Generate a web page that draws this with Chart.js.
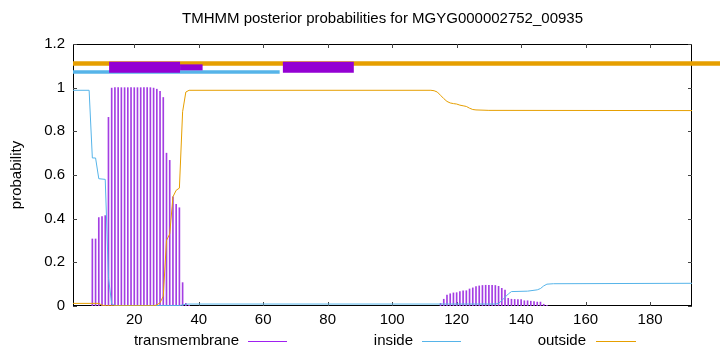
<!DOCTYPE html>
<html>
<head>
<meta charset="utf-8">
<script src="https://cdn.jsdelivr.net/npm/chart.js@4.4.0/dist/chart.umd.min.js"></script>
<style>
  html, body { margin: 0; padding: 0; background: #fff; }
  canvas { display: block; }
</style>
</head>
<body>
<canvas id="tmhmmChart" width="720" height="352"></canvas>
<script>
// posterior probabilities (residue -> probability)
const insideRes  = [1, 6, 7, 8, 9, 11, 12, 13, 14, 34, 35, 36, 37, 132, 133, 134, 135, 136, 137, 142, 145, 146, 147, 148, 150, 193];
const insideProb = [0.988, 0.988, 0.678, 0.678, 0.583, 0.58, 0.13, 0.01, 0.002, 0.002, 0.005, 0.008, 0.009, 0.009, 0.012, 0.025, 0.04, 0.055, 0.066, 0.068, 0.074, 0.08, 0.092, 0.1, 0.102, 0.104];

const outsideRes  = [1, 9, 10, 11, 26, 27, 28, 29, 30, 31, 32, 33, 34, 35, 36, 37, 112, 113, 114, 115, 116, 117, 118, 119, 120, 121, 122, 123, 124, 125, 126, 130, 193];
const outsideProb = [0.012, 0.012, 0.004, 0.001, 0.001, 0.005, 0.015, 0.045, 0.30, 0.33, 0.50, 0.53, 0.54, 0.89, 0.98, 0.988, 0.988, 0.986, 0.98, 0.965, 0.95, 0.937, 0.93, 0.927, 0.925, 0.92, 0.917, 0.914, 0.906, 0.9, 0.898, 0.896, 0.895];

const tmRes  = [7, 8, 9, 10, 11, 12, 13, 14, 15, 16, 17, 18, 19, 20, 21, 22, 23, 24, 25, 26, 27, 28, 29, 30, 31, 32, 33, 34, 35, 36, 37,
                115, 116, 117, 118, 119, 120, 121, 122, 123, 124, 125, 126, 127, 128, 129, 130, 131, 132, 133, 134, 135, 136, 137, 138, 139, 140, 141, 142, 143, 144, 145, 146, 147, 148];
const tmProb = [0.307, 0.307, 0.405, 0.41, 0.414, 0.864, 0.998, 1, 1, 1, 1, 1, 1, 1, 1, 1, 1, 1, 1, 0.998, 0.993, 0.983, 0.955, 0.70, 0.667, 0.50, 0.466, 0.45, 0.107, 0.012, 0.003,
                0.012, 0.031, 0.05, 0.056, 0.06, 0.061, 0.066, 0.069, 0.07, 0.078, 0.083, 0.089, 0.092, 0.094, 0.095, 0.095, 0.095, 0.094, 0.09, 0.081, 0.073, 0.035, 0.031, 0.03, 0.029, 0.029, 0.024, 0.024, 0.022, 0.02, 0.018, 0.018, 0.008, 0.003];

// predicted topology strips drawn above the curves (residue spans)
const outsideSpanStart = [1],    outsideSpanEnd = [202];
const insideSpanStart  = [1],    insideSpanEnd  = [65.1];
const tmSpanStart = [12.2, 66.1], tmSpanEnd = [34.2, 88.1];
const tmTailStart = [34.2],       tmTailEnd = [41.2];
const stripLevel = { outside: 1.111, inside: 1.072, tm: 1.093 };

const xTicks = [20, 40, 60, 80, 100, 120, 140, 160, 180];
const yTicks = [0, 0.2, 0.4, 0.6, 0.8, 1, 1.2];

const colors = {
    tm: '#9400d3',
    tmImpulse: '#a43ee3',
    tmKey: '#a020f0',
    inside: '#56b4e9',
    outside: '#e69f00',
};

const FONT = { family: '"Liberation Sans", Arial, sans-serif', size: 15 };

// key below the axis: label, right edge of text, line sample span
const keyEntries = [
    { label: 'transmembrane', color: colors.tmKey, textRight: 239, lineFrom: 248, lineTo: 287 },
    { label: 'inside', color: colors.inside, textRight: 413, lineFrom: 422, lineTo: 461 },
    { label: 'outside', color: colors.outside, textRight: 586, lineFrom: 596, lineTo: 636 },
];
const KEY_Y = 341;

const toPoints = (xs, ys) => xs.map((x, i) => ({ x: x, y: ys[i] }));

function spanPoints(starts, ends, level) {
    const pts = [];
    starts.forEach((s, i) => {
        if (i > 0) pts.push({ x: (ends[i - 1] + s) / 2, y: null });
        pts.push({ x: s, y: level }, { x: ends[i], y: level });
    });
    return pts;
}

const strip = (data, color, width) => ({
    type: 'line',
    data: data,
    borderColor: color,
    borderWidth: width,
    pointRadius: 0,
    borderCapStyle: 'butt',
    spanGaps: false,
    clip: false,
});

// frame with inward ticks on all four sides, like gnuplot
const framePlugin = {
    id: 'frame',
    beforeDatasetsDraw(chart) {
        const { ctx, chartArea: a, scales } = chart;
        ctx.save();
        ctx.strokeStyle = '#000';
        ctx.lineWidth = 1;
        ctx.strokeRect(a.left + 0.5, a.top + 0.5, a.width - 1, a.height - 1);
        ctx.beginPath();
        xTicks.forEach(v => {
            const px = Math.round(scales.x.getPixelForValue(v)) + 0.5;
            ctx.moveTo(px, a.bottom); ctx.lineTo(px, a.bottom - 4);
            ctx.moveTo(px, a.top); ctx.lineTo(px, a.top + 4);
        });
        yTicks.forEach(v => {
            const py = Math.round(scales.y.getPixelForValue(v)) + 0.5;
            ctx.moveTo(a.left, py); ctx.lineTo(a.left + 4, py);
            ctx.moveTo(a.right, py); ctx.lineTo(a.right - 4, py);
        });
        ctx.strokeStyle = '#444';
        ctx.stroke();
        ctx.restore();
    }
};

const keyPlugin = {
    id: 'key',
    afterDraw(chart) {
        const { ctx } = chart;
        ctx.save();
        ctx.font = FONT.size + 'px ' + FONT.family;
        ctx.textAlign = 'right';
        ctx.textBaseline = 'middle';
        keyEntries.forEach(e => {
            ctx.fillStyle = '#000';
            ctx.fillText(e.label, e.textRight, KEY_Y);
            ctx.strokeStyle = e.color;
            ctx.lineWidth = 1;
            ctx.beginPath();
            ctx.moveTo(e.lineFrom, KEY_Y + 0.5);
            ctx.lineTo(e.lineTo, KEY_Y + 0.5);
            ctx.stroke();
        });
        ctx.restore();
    }
};

const ctx = document.getElementById('tmhmmChart').getContext('2d');
new Chart(ctx, {
    type: 'line',
    data: {
        datasets: [
            strip(spanPoints(tmSpanStart, tmSpanEnd, stripLevel.tm), colors.tm, 11),
            strip(spanPoints(tmTailStart, tmTailEnd, stripLevel.tm), colors.tm, 6),
            strip(spanPoints(insideSpanStart, insideSpanEnd, stripLevel.inside), colors.inside, 3.5),
            strip(spanPoints(outsideSpanStart, outsideSpanEnd, stripLevel.outside), colors.outside, 4.5),
            {
                type: 'line',
                label: 'outside',
                data: toPoints(outsideRes, outsideProb),
                borderColor: colors.outside,
                borderWidth: 1,
                pointRadius: 0,
            },
            {
                type: 'line',
                label: 'inside',
                data: toPoints(insideRes, insideProb),
                borderColor: colors.inside,
                borderWidth: 1,
                pointRadius: 0,
            },
            {
                type: 'bar',
                label: 'transmembrane',
                data: toPoints(tmRes, tmProb),
                backgroundColor: colors.tmImpulse,
                barThickness: 1,
                borderWidth: 0,
            },
        ],
    },
    options: {
        responsive: false,
        animation: false,
        events: [],
        layout: { padding: { top: 0, right: 28, bottom: 0, left: 0 } },
        scales: {
            x: {
                type: 'linear',
                min: 1,
                max: 193,
                offset: false,
                afterBuildTicks: s => { s.ticks = xTicks.map(v => ({ value: v })); },
                afterFit: s => { s.height = 46; },
                ticks: { font: FONT, color: '#000', padding: 5, maxRotation: 0, autoSkip: false },
                grid: { display: false, drawTicks: false, offset: false },
                border: { display: false },
            },
            y: {
                type: 'linear',
                min: 0,
                max: 1.2,
                afterBuildTicks: s => { s.ticks = yTicks.map(v => ({ value: v })); },
                afterFit: s => { s.width = 73; },
                ticks: { font: FONT, color: '#000', padding: 8, callback: v => String(v) },
                grid: { display: false, drawTicks: false },
                border: { display: false },
                title: { display: true, text: 'probability', font: FONT, color: '#000', padding: { top: 8, bottom: 0 } },
            },
        },
        plugins: {
            legend: { display: false },
            tooltip: { enabled: false },
            title: {
                display: true,
                fullSize: false,
                text: 'TMHMM posterior probabilities for MGYG000002752_00935',
                font: { family: FONT.family, size: 15, weight: 'normal', lineHeight: 1.2 },
                color: '#000',
                padding: { top: 10, bottom: 16 },
            },
        },
    },
    plugins: [framePlugin, keyPlugin],
});
</script>
</body>
</html>
